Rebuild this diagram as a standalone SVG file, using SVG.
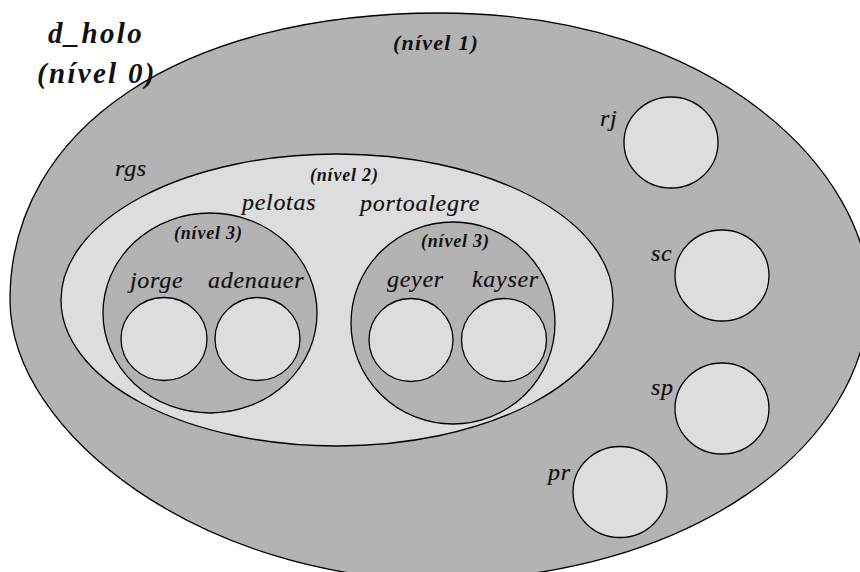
<svg xmlns="http://www.w3.org/2000/svg" width="860" height="572" viewBox="0 0 860 572">
<style>
.dark{fill:#b3b3b3;stroke:#000;stroke-width:1.3}
.light{fill:#dddddd;stroke:#000;stroke-width:1.3}
.t{font-style:italic;font-size:24px;letter-spacing:0.7px;fill:#111;stroke:#111;stroke-width:0.2}
.lv{font-style:italic;font-weight:bold;font-size:18px;letter-spacing:0.8px;fill:#111}
.big{font-style:italic;font-weight:bold;font-size:29px;letter-spacing:2.3px;fill:#111}
</style>
<rect width="860" height="572" fill="#fff"/>
<g font-family="Liberation Serif, Times New Roman, serif">
<g id="d_holo">
<path class="dark" d="M440,13 C719,13 869,175 869,295 C869,446 688,580 438,580 C206,580 10,435 10,300 C10,128 182,13 440,13 Z"/>
<text class="big" x="48" y="43">d_holo</text>
<text class="big" x="37" y="83">(nível 0)</text>
<text class="lv" x="393" y="50" style="font-size:22px;letter-spacing:1.2px">(nível 1)</text>
</g>
<g id="rgs">
<ellipse class="light" cx="337" cy="300" rx="276" ry="146"/>
<text class="t" x="115" y="176">rgs</text>
<text class="lv" x="310" y="181">(nível 2)</text>
</g>
<g id="pelotas">
<ellipse class="dark" cx="210" cy="313" rx="107" ry="100"/>
<text class="t" x="242" y="210">pelotas</text>
<text class="lv" x="174" y="239">(nível 3)</text>
</g>
<g id="portoalegre">
<ellipse class="dark" cx="453" cy="323" rx="102" ry="101"/>
<text class="t" x="360" y="211">portoalegre</text>
<text class="lv" x="421" y="247">(nível 3)</text>
</g>
<g id="jorge">
<ellipse class="light" cx="164" cy="339" rx="43" ry="41.5"/>
<text class="t" x="130" y="288">jorge</text>
</g>
<g id="adenauer">
<ellipse class="light" cx="257.5" cy="339" rx="42.5" ry="41.5"/>
<text class="t" x="208" y="288">adenauer</text>
</g>
<g id="geyer">
<ellipse class="light" cx="411" cy="340" rx="42" ry="41.5"/>
<text class="t" x="387" y="287">geyer</text>
</g>
<g id="kayser">
<ellipse class="light" cx="504" cy="340" rx="42.5" ry="41.5"/>
<text class="t" x="472" y="287">kayser</text>
</g>
<g id="rj">
<ellipse class="light" cx="671" cy="142.5" rx="47" ry="45.5"/>
<text class="t" x="600" y="126">rj</text>
</g>
<g id="sc">
<ellipse class="light" cx="722" cy="275.5" rx="47" ry="45.5"/>
<text class="t" x="651" y="261">sc</text>
</g>
<g id="sp">
<ellipse class="light" cx="722" cy="408.5" rx="47" ry="45.5"/>
<text class="t" x="651" y="395">sp</text>
</g>
<g id="pr">
<ellipse class="light" cx="620" cy="492" rx="47" ry="45.5"/>
<text class="t" x="548" y="480">pr</text>
</g>
</g>
<g id="connectors"></g>
</svg>
